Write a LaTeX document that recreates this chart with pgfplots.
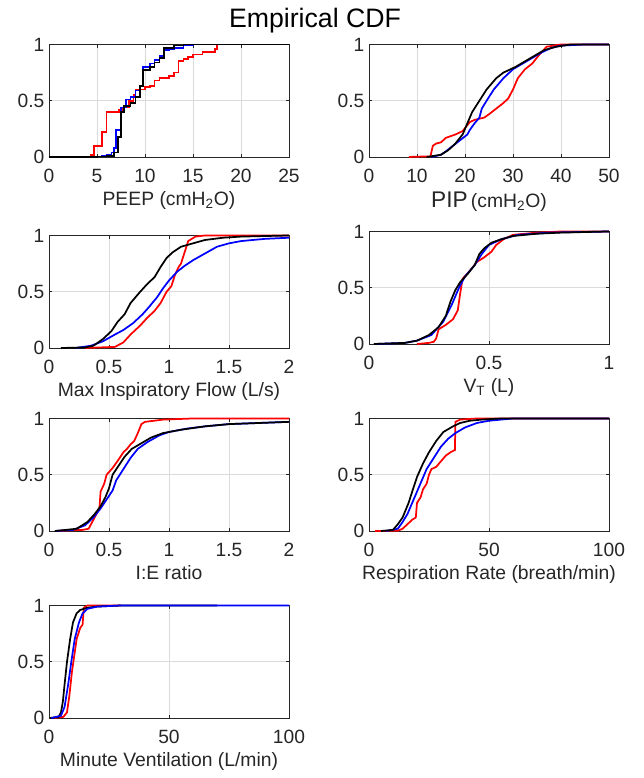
\documentclass[border=0pt]{standalone}
\usepackage{fontspec}
\setmainfont{Liberation Sans}
\usepackage{pgfplots}
\pgfplotsset{compat=1.18}
\definecolor{txt}{gray}{0.15}
\pgfplotsset{cdf/.style={
  width=180pt,height=84.4pt,scale only axis,anchor=south west,
  ymin=0,ymax=1,ytick={0,0.5,1},
  grid=major,grid style={black!14,line width=0.5pt},
  axis line style={txt,line width=0.6pt},
  tick align=inside,major tick length=2.5pt,tick style={txt,line width=0.5pt},
  ticklabel style={font=\fontsize{14.4}{16}\selectfont,text=txt},
  xticklabel style={yshift=-5.5pt},
  label style={font=\fontsize{14.5}{16}\selectfont,text=txt},
  /pgf/number format/assume math mode=true,
  /pgf/number format/fixed,
  every axis plot/.append style={line width=1.3pt,no markers},
  clip=false}}
\begin{document}
\begin{tikzpicture}
\useasboundingbox (0,0) rectangle (482.25pt,-583.5pt);
\node[font=\fontsize{20}{24}\selectfont,text=black] at (236.25pt,-15.5pt) {Empirical CDF};
% PEEP
\begin{axis}[cdf,at={(36.75pt,-117.75pt)},xmin=0,xmax=25,xtick={0,5,...,25},
  xlabel={PEEP (cmH\textsubscript{2}O)}]
\addplot[red] coordinates {(0,0)(2,0)(2,0.005)(4.4,0.005)(4.4,0.02)(4.7,0.02)(4.7,0.1)(5.5,0.1)(5.5,0.22)(6,0.22)(6,0.4)(7.3,0.4)(7.3,0.42)(7.7,0.42)(7.7,0.44)(8.3,0.44)(8.3,0.5)(8.8,0.5)(8.8,0.55)(9,0.55)(9,0.6)(10,0.6)(10,0.62)(10.5,0.62)(10.5,0.63)(11,0.63)(11,0.68)(11.5,0.68)(11.5,0.7)(12.5,0.7)(12.5,0.72)(13,0.72)(13,0.75)(13.5,0.75)(13.5,0.85)(14,0.85)(14,0.87)(14.5,0.87)(14.5,0.89)(15,0.89)(15,0.91)(16,0.91)(16,0.93)(17.3,0.93)(17.3,0.96)(17.5,0.96)(17.5,1)(25,1)};
\addplot[blue] coordinates {(0,0)(4,0)(4,0.002)(5,0.002)(5,0.005)(5.5,0.005)(5.5,0.01)(6,0.01)(6,0.02)(6.5,0.02)(6.5,0.04)(6.8,0.04)(6.8,0.08)(7,0.08)(7,0.24)(7.5,0.24)(7.5,0.44)(8,0.44)(8,0.51)(8.5,0.51)(8.5,0.53)(9,0.53)(9,0.59)(9.5,0.59)(9.5,0.63)(9.8,0.63)(9.8,0.8)(10.5,0.8)(10.5,0.83)(11,0.83)(11,0.86)(11.5,0.86)(11.5,0.9)(12,0.9)(12,0.95)(12.5,0.95)(12.5,0.96)(13,0.96)(13,0.97)(14,0.97)(14,0.99)(15,0.99)(15,1)(25,1)};
\addplot[black] coordinates {(0,0)(4,0)(4,0.002)(5,0.002)(5,0.005)(6,0.005)(6,0.01)(6.8,0.01)(6.8,0.04)(7.2,0.04)(7.2,0.18)(7.5,0.18)(7.5,0.4)(7.8,0.4)(7.8,0.45)(8.5,0.45)(8.5,0.48)(9,0.48)(9,0.53)(9.5,0.53)(9.5,0.63)(9.8,0.63)(9.8,0.77)(10.5,0.77)(10.5,0.8)(11,0.8)(11,0.84)(11.5,0.84)(11.5,0.88)(12,0.88)(12,0.97)(13,0.97)(13,0.99)(14,0.99)(14,1)(25,1)};
\end{axis}
% PIP
\begin{axis}[cdf,at={(276.75pt,-117.75pt)},xmin=0,xmax=50,xtick={0,10,...,50},
  xlabel={{\fontsize{17}{19}\selectfont PIP}\,(cmH\textsubscript{2}O)}]
\addplot[red] coordinates {(8.3,0)(10,0.003)(12.8,0.005)(13.3,0.1)(14,0.12)(15,0.13)(16,0.17)(18,0.2)(19.5,0.23)(21,0.31)(22,0.33)(24,0.35)(25,0.38)(26.5,0.43)(28,0.48)(29,0.52)(30,0.6)(31,0.7)(32.5,0.78)(34,0.83)(35.5,0.91)(37,0.98)(40,1)(50,1)};
\addplot[blue] coordinates {(13,0)(15,0.02)(16,0.05)(17.5,0.1)(19,0.15)(20.5,0.2)(21,0.24)(22,0.3)(23,0.35)(23.5,0.43)(24.5,0.5)(26,0.6)(28,0.7)(30,0.78)(32,0.83)(34,0.88)(36,0.93)(38,0.97)(40,0.99)(45,1)(50,1)};
\addplot[black] coordinates {(12,0)(15,0.02)(16.5,0.06)(18,0.12)(19.5,0.2)(20.5,0.3)(21.5,0.4)(23,0.5)(24.5,0.6)(26.5,0.7)(28,0.75)(30.5,0.8)(32.5,0.85)(34.5,0.9)(36.5,0.95)(39,0.98)(42,1)(50,1)};
\end{axis}
% Max Insp Flow
\begin{axis}[cdf,at={(36.75pt,-261pt)},xmin=0,xmax=2,xtick={0,0.5,...,2},
  xlabel={Max Inspiratory Flow (L/s)}]
\addplot[red] coordinates {(0.3,0)(0.55,0.01)(0.62,0.05)(0.68,0.12)(0.76,0.2)(0.82,0.27)(0.88,0.33)(0.93,0.4)(0.98,0.5)(1.02,0.55)(1.05,0.65)(1.08,0.72)(1.1,0.75)(1.13,0.85)(1.16,0.95)(1.22,0.99)(1.3,1)(2,1)};
\addplot[blue] coordinates {(0.22,0)(0.35,0.02)(0.45,0.06)(0.55,0.12)(0.62,0.16)(0.7,0.22)(0.78,0.3)(0.83,0.36)(0.9,0.45)(0.95,0.53)(1.0,0.6)(1.07,0.68)(1.13,0.73)(1.2,0.78)(1.3,0.84)(1.4,0.9)(1.5,0.93)(1.6,0.95)(1.8,0.97)(2,0.98)};
\addplot[black] coordinates {(0.1,0)(0.3,0.005)(0.37,0.02)(0.45,0.08)(0.52,0.15)(0.57,0.23)(0.63,0.3)(0.68,0.4)(0.76,0.5)(0.82,0.57)(0.88,0.63)(0.93,0.72)(0.98,0.8)(1.03,0.85)(1.1,0.9)(1.2,0.93)(1.3,0.96)(1.45,0.98)(1.6,0.99)(2,1)};
\end{axis}
% VT
\begin{axis}[cdf,at={(276.75pt,-258pt)},xmin=0,xmax=1,xtick={0,0.5,1},
  xlabel={V\textsubscript{T} (L)}]
\addplot[red] coordinates {(0.2,0)(0.25,0.01)(0.27,0.02)(0.28,0.05)(0.29,0.13)(0.32,0.17)(0.35,0.22)(0.37,0.3)(0.38,0.45)(0.39,0.58)(0.42,0.65)(0.45,0.73)(0.48,0.77)(0.51,0.82)(0.53,0.88)(0.56,0.93)(0.6,0.97)(0.7,0.99)(0.8,1)(1,1)};
\addplot[blue] coordinates {(0.02,0)(0.15,0.01)(0.2,0.03)(0.26,0.08)(0.31,0.2)(0.345,0.35)(0.375,0.5)(0.4,0.6)(0.44,0.7)(0.47,0.8)(0.5,0.88)(0.55,0.93)(0.62,0.97)(0.75,0.99)(1,1)};
\addplot[black] coordinates {(0.02,0)(0.15,0.01)(0.2,0.03)(0.25,0.08)(0.29,0.15)(0.32,0.25)(0.34,0.38)(0.36,0.48)(0.38,0.55)(0.41,0.62)(0.44,0.7)(0.46,0.8)(0.48,0.85)(0.51,0.9)(0.55,0.93)(0.6,0.96)(0.7,0.98)(0.8,0.99)(1,1)};
\end{axis}
% I:E ratio
\begin{axis}[cdf,at={(36.75pt,-398.25pt)},xmin=0,xmax=2,xtick={0,0.5,...,2},
  xlabel={I:E ratio}]
\addplot[red] coordinates {(0.05,0)(0.28,0.01)(0.33,0.02)(0.35,0.06)(0.38,0.12)(0.42,0.2)(0.43,0.35)(0.46,0.42)(0.48,0.5)(0.53,0.56)(0.57,0.62)(0.62,0.7)(0.65,0.73)(0.68,0.77)(0.71,0.8)(0.74,0.87)(0.77,0.95)(0.8,0.97)(0.95,0.99)(1.2,1)(2,1)};
\addplot[blue] coordinates {(0.05,0)(0.2,0.01)(0.3,0.05)(0.37,0.12)(0.43,0.2)(0.48,0.28)(0.53,0.36)(0.56,0.45)(0.62,0.55)(0.68,0.65)(0.74,0.73)(0.82,0.79)(0.92,0.85)(1.0,0.88)(1.15,0.91)(1.3,0.93)(1.5,0.95)(1.75,0.96)(2,0.97)};
\addplot[black] coordinates {(0.05,0)(0.23,0.02)(0.32,0.08)(0.38,0.15)(0.43,0.22)(0.47,0.3)(0.5,0.38)(0.53,0.5)(0.58,0.58)(0.63,0.66)(0.69,0.73)(0.77,0.78)(0.85,0.83)(0.95,0.87)(1.1,0.9)(1.3,0.93)(1.5,0.95)(1.75,0.96)(2,0.97)};
\end{axis}
% Respiration rate
\begin{axis}[cdf,at={(276.75pt,-398.25pt)},xmin=0,xmax=100,xtick={0,50,100},
  xlabel={Respiration Rate (breath/min)}]
\addplot[red] coordinates {(2.5,0)(12,0.002)(14,0.02)(16,0.06)(18,0.1)(19.5,0.12)(20,0.25)(21.5,0.3)(22.5,0.37)(24,0.42)(25,0.5)(26,0.55)(28,0.57)(30,0.62)(32,0.67)(34,0.7)(35.8,0.72)(36,0.97)(38,0.99)(45,1)(100,1)};
\addplot[blue] coordinates {(7,0)(12,0.02)(14,0.08)(16,0.15)(18,0.25)(20,0.35)(22,0.45)(24,0.55)(27,0.65)(30,0.75)(33,0.82)(36,0.87)(40,0.92)(45,0.96)(50,0.98)(55,0.99)(60,1)(100,1)};
\addplot[black] coordinates {(5,0)(10,0.01)(12,0.06)(14,0.12)(16.5,0.25)(18,0.35)(20,0.48)(22.5,0.6)(25,0.7)(28,0.8)(31,0.88)(35,0.93)(38,0.96)(42,0.98)(47,0.99)(55,1)(100,1)};
\end{axis}
% Minute ventilation
\begin{axis}[cdf,at={(36.75pt,-538.5pt)},xmin=0,xmax=100,xtick={0,50,100},
  xlabel={Minute Ventilation (L/min)}]
\addplot[red] coordinates {(2,0)(6,0.01)(7.5,0.05)(8.5,0.2)(9.5,0.4)(10.5,0.55)(11.5,0.7)(13,0.8)(14,0.83)(14.5,0.98)(16,1)(30,1)};
\addplot[black] coordinates {(0.5,0)(4,0.01)(5,0.05)(5.8,0.15)(6.5,0.3)(7.5,0.5)(8.8,0.7)(10,0.85)(11.5,0.93)(13,0.96)(16,0.98)(20,0.99)(30,1)(70,1)};
\addplot[blue] coordinates {(1,0)(5,0.02)(6.5,0.1)(8,0.3)(9.3,0.5)(10.7,0.7)(12.5,0.85)(14,0.93)(16,0.97)(20,0.99)(30,1)(100,1)};
\end{axis}
\end{tikzpicture}
\end{document}
